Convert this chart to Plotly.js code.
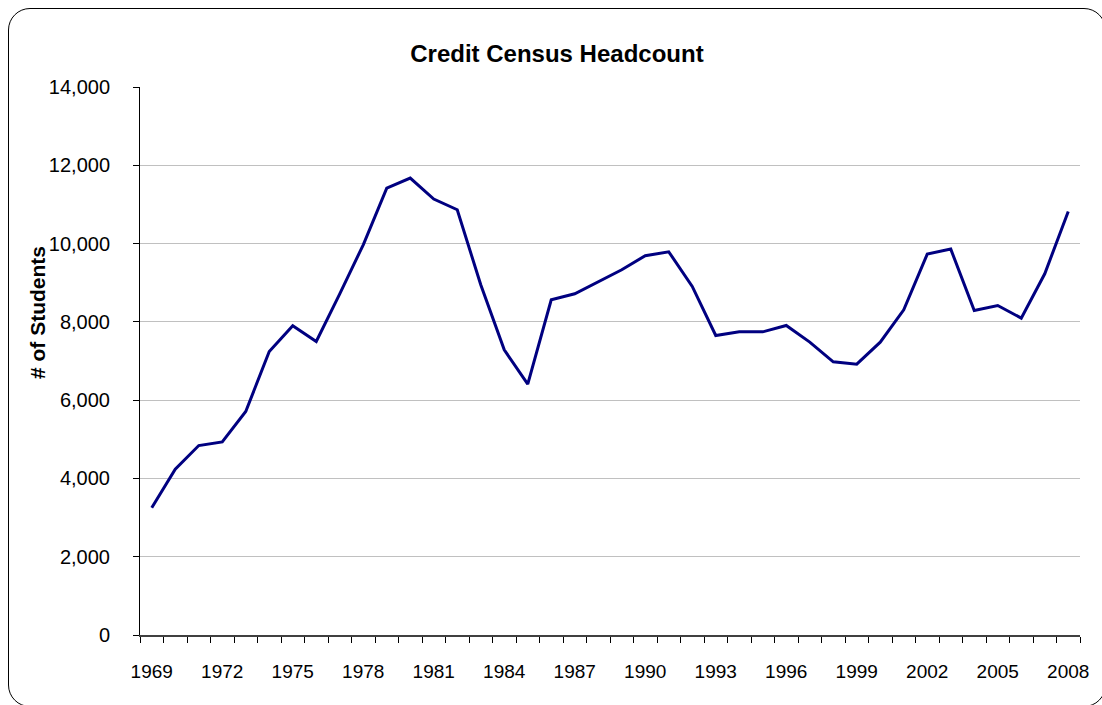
<!DOCTYPE html>
<html>
<head>
<meta charset="utf-8">
<script src="https://cdn.plot.ly/plotly-3.0.1.min.js"></script>
<style>
  html, body { margin: 0; padding: 0; background: #fff; }
  #chart { width: 1102px; height: 705px; position: relative; }
  #frame { position: absolute; left: 8px; top: 8px; width: 1098px; height: 699px;
           border: 1px solid #000; border-radius: 22px; box-sizing: border-box; pointer-events: none; }
</style>
</head>
<body>
<div id="chart"><div id="frame"></div></div>
<script>
const years = [1969,1970,1971,1972,1973,1974,1975,1976,1977,1978,
               1979,1980,1981,1982,1983,1984,1985,1986,1987,1988,
               1989,1990,1991,1992,1993,1994,1995,1996,1997,1998,
               1999,2000,2001,2002,2003,2004,2005,2006,2007,2008];
const students = [3250,4236,4840,4934,5709,7243,7899,7498,8717,9969,
                  11418,11674,11137,10864,8947,7285,6408,8563,8717,9032,
                  9330,9688,9790,8905,7651,7745,7745,7907,7482,6979,
                  6920,7482,8308,9731,9859,8290,8418,8096,9228,10820];
const tickYears = [1969,1972,1975,1978,1981,1984,1987,1990,1993,1996,1999,2002,2005,2008];
const tickLabels = tickYears.map(String);

const fontFam = 'Liberation Sans, Arial, Helvetica, sans-serif';

const trace = {
  x: years, y: students, type: 'scatter', mode: 'lines',
  line: { color: '#000080', width: 3 }, hoverinfo: 'x+y'
};

const layout = {
  width: 1102, height: 705,
  margin: { l: 140, r: 22, t: 87, b: 70, pad: 0 },
  paper_bgcolor: 'rgba(0,0,0,0)', plot_bgcolor: '#fff',
  showlegend: false,
  font: { family: fontFam, color: '#000' },
  title: {
    text: 'Credit Census Headcount',
    font: { family: fontFam, size: 24, color: '#000', weight: 'bold' },
    xref: 'container', x: 0.5054, xanchor: 'center',
    yref: 'container', y: 1 - 54/705, yanchor: 'middle'
  },
  xaxis: {
    range: [1968.5, 2008.5], tickmode: 'array', tickvals: tickYears, ticktext: tickLabels,
    ticks: 'outside', ticklen: 0, tickcolor: '#404040',
    showgrid: false, zeroline: false,
    showline: true, linecolor: '#404040', linewidth: 1.5,
    tickfont: { family: fontFam, size: 19, color: '#000' },
    ticklabelstandoff: 19,
    minor: { ticks: 'outside', tick0: 1968.5, dtick: 1, ticklen: 6, tickcolor: '#000', tickwidth: 1, showgrid: false }
  },
  yaxis: {
    range: [0, 14000], dtick: 2000, tick0: 0, tickformat: ',d',
    ticks: 'outside', ticklen: 6, tickcolor: '#000',
    showgrid: true, gridcolor: '#c0c0c0', gridwidth: 1,
    zeroline: false, showline: true, linecolor: '#000', linewidth: 1,
    tickfont: { family: fontFam, size: 20, color: '#000' },
    ticklabelstandoff: 19
  },
  annotations: [{
    text: '# of Students', textangle: -90, showarrow: false,
    xref: 'paper', yref: 'paper', x: (37 - 140) / 940, y: (635 - 313) / 548,
    xanchor: 'center', yanchor: 'middle',
    font: { family: fontFam, size: 21, color: '#000', weight: 'bold' }
  }]
};

Plotly.newPlot('chart', [trace], layout, { displayModeBar: false, staticPlot: true });
</script>
</body>
</html>
